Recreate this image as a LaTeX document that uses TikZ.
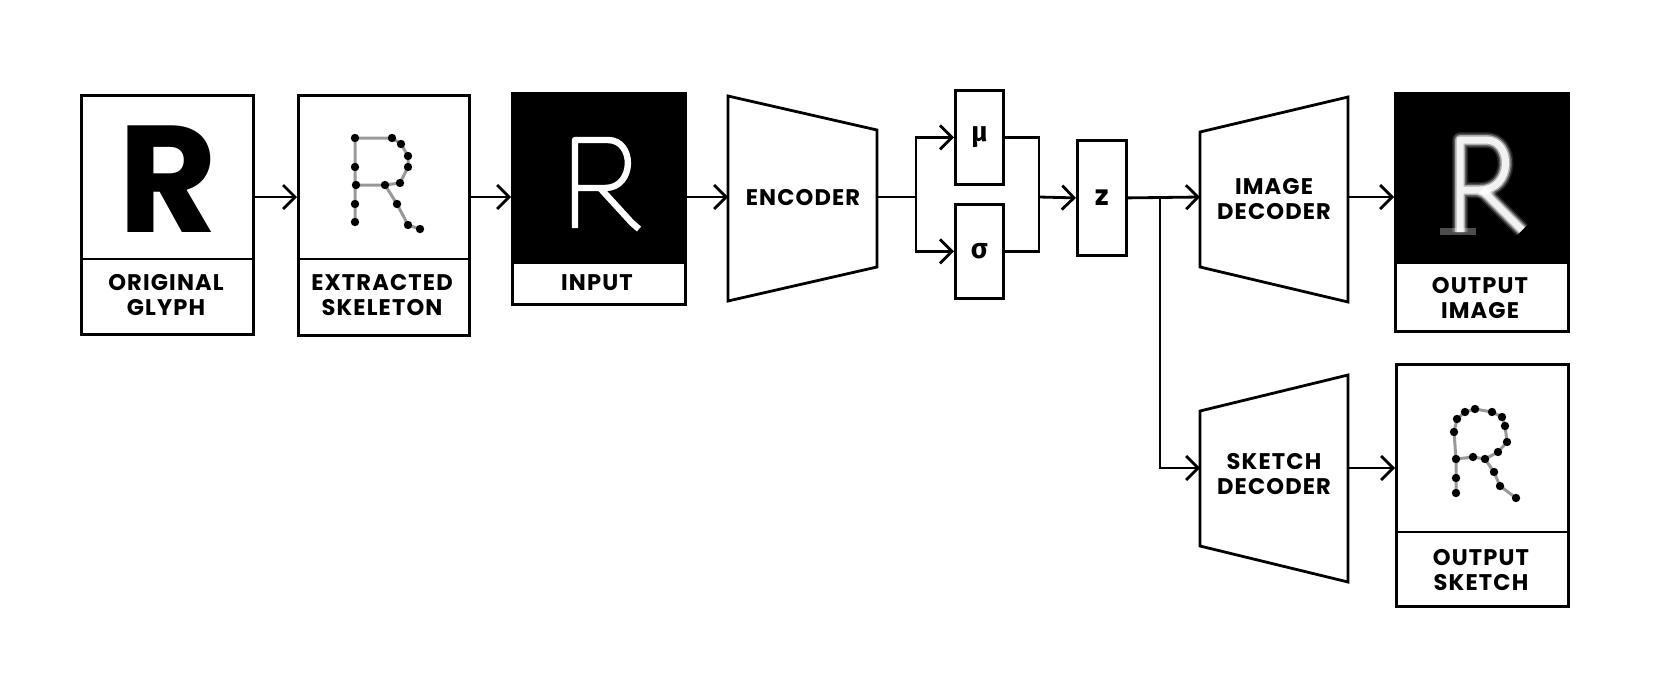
\documentclass[tikz,border=0pt]{standalone}
\usepackage{fontspec}
\setmainfont{Poppins}[LetterSpace=5]
\newfontfamily\plainfont{Poppins}
\newfontfamily\grk{Fira Sans}
\usetikzlibrary{arrows.meta}
\begin{document}
\begin{tikzpicture}[x=0.5pt,y=-0.5pt,
  lw/.style={line width=1.4pt},
  box/.style={draw, line width=1.4pt, inner sep=0pt, anchor=north west},
  arr/.style={line width=1.4pt, -{Straight Barb[length=6pt,width=12pt,line width=1.4pt]}},
  lbl/.style={font=\bfseries\fontsize{11.3}{12.8}\selectfont, align=center},
  sym/.style={font=\bfseries\fontsize{14}{14}\selectfont},
  dot/.style={circle, fill=black, inner sep=0pt, minimum size=4.2pt},
  skl/.style={draw=black!40, line width=1.5pt},
]
\useasboundingbox (0,0) rectangle (1664,675);
\coordinate (ml) at (0,197);
\coordinate (d1) at (0,259);

% ---------- original glyph ----------
\node[box, minimum width=86pt, minimum height=119.5pt] (orig) at (80,94) {};
\draw[lw] (orig.west |- d1) -- (orig.east |- d1);
\node[inner sep=0pt] (glyph) at (168,179) {\plainfont\fontsize{76}{76}\selectfont\bfseries R};
\node[lbl] (origlbl) at (166,295) {ORIGINAL\\GLYPH};

% ---------- extracted skeleton ----------
\node[box, minimum width=85.5pt, minimum height=120pt] (skel) at (297,94) {};
\draw[lw] (skel.west |- d1) -- (skel.east |- d1);
\draw[skl] (355,222) -- (355,138) -- (392,138) -- (401,144) -- (408,156) -- (408,167) -- (400,183) -- (385,185) -- (356,185);
\draw[skl] (385,185) -- (397,204) -- (408,225) -- (420,229);
\foreach \p [count=\i] in {(355,138),(392,138),(401,144),(408,156),(408,167),(400,183),(385,185),(356,185),(355,167),(355,204),(355,222),(397,204),(408,225),(420,229)}
  \node[dot] (sd\i) at \p {};
\node[lbl] (skellbl) at (382,295) {EXTRACTED\\SKELETON};

% ---------- input ----------
\fill (511,92) rectangle (684,263);
\node[box, minimum width=86.5pt, minimum height=105.5pt] (inp) at (511,92) {};
\draw[lw] (inp.west |- 0,263) -- (inp.east |- 0,263);
\draw[white, line width=3.2pt, line join=round] (575,228) -- (575,140) -- (608,140) .. controls (635,140) and (635,188) .. (605,188) -- (575,188);
\draw[white, line width=3.2pt, line join=round] (600,188) -- (632,223) -- (639,229);
\node[lbl] (inplbl) at (597,283) {INPUT};

% ---------- encoder ----------
\draw[lw] (728,96) -- (877,130) -- (877,267) -- (728,301) -- cycle;
\node[lbl] (enc) at (803,198) {ENCODER};
\coordinate (encin) at (728,197);
\coordinate (encout) at (877,197);

% ---------- mu / sigma / z ----------
\node[box, minimum width=24pt, minimum height=47pt] (mu) at (954,89) {};
\node[sym] (mut) at (mu.center) {\grk μ};
\node[box, minimum width=24pt, minimum height=47pt] (sig) at (954,203) {};
\node[sym] (sigt) at (sig.center) {\grk σ};
\node[box, minimum width=24.5pt, minimum height=57.5pt] (z) at (1076,139) {};
\node[sym] (zt) at (z.center) {\plainfont\bfseries z};
\coordinate (fork) at (916,197);
\coordinate (join) at (1039,197);
\coordinate (split) at (1160,197);

% ---------- image decoder ----------
\draw[lw] (1200,132) -- (1348,97) -- (1348,302) -- (1200,267) -- cycle;
\node[lbl] (imgdec) at (1274,199) {IMAGE\\DECODER};
\coordinate (idin) at (1200,197);
\coordinate (idout) at (1348,197);

% ---------- output image ----------
\fill (1394,92) rectangle (1567,263);
\node[box, minimum width=86.5pt, minimum height=119pt] (oimg) at (1394,92) {};
\draw[lw] (oimg.west |- 0,263) -- (oimg.east |- 0,263);
\foreach \w/\o in {16/0.12,13/0.25,10/0.5,7/0.85}{
  \draw[white, opacity=\o, line width=\w*0.5pt, line join=round] (1460,232) -- (1460,140) -- (1486,140) .. controls (1513,140) and (1513,190) .. (1480,190) -- (1460,190);
  \draw[white, opacity=\o, line width=\w*0.5pt] (1482,190) -- (1522,230);
}
\draw[white, opacity=0.3, line width=3.5pt] (1440,231) -- (1476,231);
\node[lbl] (oimglbl) at (1480,298) {OUTPUT\\IMAGE};

% ---------- sketch decoder ----------
\draw[lw] (1200,411) -- (1348,375) -- (1348,582) -- (1200,546) -- cycle;
\node[lbl] (skdec) at (1274,474) {SKETCH\\DECODER};
\coordinate (sdin) at (1200,468);
\coordinate (sdout) at (1348,468);

% ---------- output sketch ----------
\node[box, minimum width=86pt, minimum height=121pt] (osk) at (1395,363) {};
\draw[lw] (osk.west |- 0,532) -- (osk.east |- 0,532);
\draw[skl] (1456,493) -- (1456,478) -- (1456,459) -- (1454,432) -- (1457,419) -- (1465,412) -- (1475,409) -- (1492,412) -- (1502,417) -- (1505,426) -- (1507,442) -- (1498,452) -- (1485,459) -- (1473,457) -- (1456,459);
\draw[skl] (1485,459) -- (1494,472) -- (1500,486) -- (1516,498);
\foreach \p [count=\i] in {(1465,412),(1475,409),(1492,412),(1502,417),(1505,426),(1457,419),(1454,432),(1507,442),(1498,452),(1485,459),(1473,457),(1456,459),(1456,478),(1456,493),(1494,472),(1500,486),(1516,498)}
  \node[dot] (od\i) at \p {};
\node[lbl] (osklbl) at (1481,570) {OUTPUT\\SKETCH};

% ---------- connectors ----------
\draw[arr] (orig.east |- ml) -- (skel.west |- ml);
\draw[arr] (skel.east |- ml) -- (inp.west |- ml);
\draw[arr] (inp.east |- ml) -- (encin);
\draw[lw] (encout) -- (fork);
\draw[arr] (fork) |- (mu.west);
\draw[arr] (fork) |- (sig.west);
\draw[lw] (mu.east) -| (join);
\draw[lw] (sig.east) -| (join);
\draw[arr] (join) -- (z.west);
\draw[arr] (z.east) -- (idin);
\draw[arr] (split) |- (sdin);
\draw[arr] (idout) -- (oimg.west |- ml);
\draw[arr] (sdout) -- (osk.west |- sdout);
\end{tikzpicture}
\end{document}
